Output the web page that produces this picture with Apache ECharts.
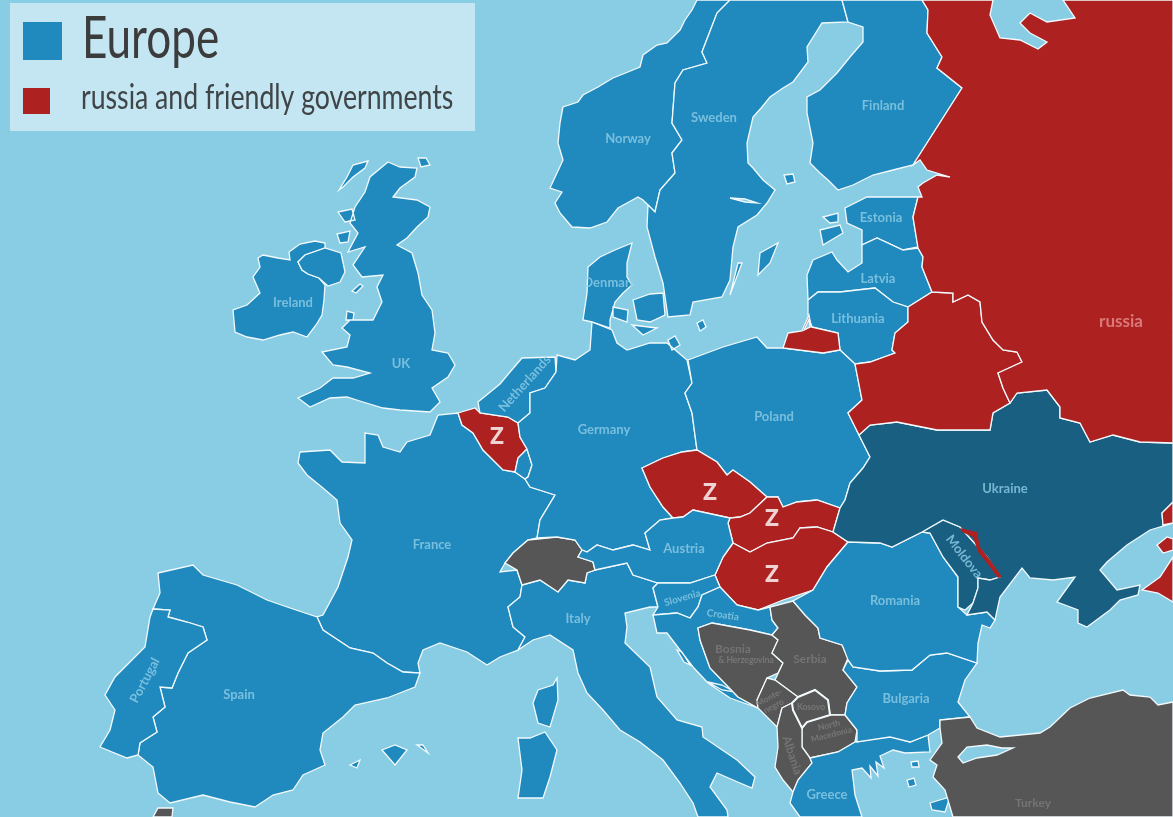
<!DOCTYPE html>
<html>
<head>
<meta charset="utf-8">
<style>html,body{margin:0;padding:0;background:#89cde5}#chart{width:1173px;height:817px}</style>
<script src="https://cdn.jsdelivr.net/npm/echarts@6/dist/echarts.min.js"></script>
</head>
<body>
<div id="chart"></div>
<script>
// outlines are in map units of the source picture
const ireland = [[263,255],[278,258],[290,260],[289,252],[300,244],[315,241],[325,243],[325,248],[305,255],[298,262],[302,270],[308,274],[319,278],[325,285],[324,300],[322,315],[316,325],[307,337],[293,332],[280,335],[263,340],[247,337],[235,332],[233,310],[247,305],[260,293],[253,277],[260,267],[258,258]];
const northernIreland = [[298,262],[305,255],[325,248],[341,253],[345,272],[340,282],[328,286],[319,278],[308,274],[302,270]];
const britain = [[388,162],[400,167],[417,168],[415,177],[400,188],[393,197],[417,200],[430,207],[428,217],[417,227],[407,238],[397,245],[412,253],[418,273],[422,295],[432,310],[435,333],[432,350],[448,353],[455,365],[448,377],[432,388],[440,402],[430,412],[400,410],[383,408],[363,402],[347,397],[330,398],[310,407],[298,398],[320,388],[333,378],[353,378],[370,373],[347,367],[333,365],[322,352],[347,347],[350,335],[342,328],[350,320],[373,320],[382,302],[377,287],[383,275],[362,277],[353,265],[365,247],[348,252],[358,233],[350,223],[355,207],[365,192],[370,177]];
const hebrides = [[368,161],[353,165],[347,177],[339,190],[343,187],[353,177],[365,168]];
const skye = [[338,212],[352,209],[355,220],[345,222]];
const mull = [[337,234],[350,231],[348,242],[340,243]];
const orkney = [[418,158],[426,158],[430,165],[421,167]];
const isleOfMan = [[352,291],[360,284],[363,286],[356,293]];
const anglesey = [[347,311],[354,313],[353,320],[346,320]];
const france = [[300,452],[330,450],[342,462],[365,463],[365,433],[378,435],[383,447],[400,452],[407,442],[430,435],[438,415],[458,413],[462,425],[473,433],[483,450],[488,455],[503,470],[515,472],[525,479],[530,487],[555,495],[540,520],[537,538],[528,540],[513,553],[505,563],[500,572],[517,570],[522,585],[520,597],[508,607],[513,627],[525,637],[518,650],[500,657],[487,665],[467,652],[440,643],[423,650],[418,663],[420,673],[403,672],[387,663],[373,653],[350,648],[323,630],[317,617],[323,615],[338,587],[348,557],[352,540],[340,523],[337,500],[323,488],[307,475],[298,463]];
const spain = [[158,573],[193,565],[203,575],[237,585],[267,600],[290,608],[317,617],[323,630],[350,648],[373,653],[387,663],[403,672],[420,673],[415,687],[387,698],[355,705],[343,717],[323,733],[320,750],[325,765],[303,775],[293,790],[273,795],[255,807],[230,802],[203,795],[170,803],[158,793],[153,767],[138,755],[140,743],[157,732],[153,717],[165,707],[160,687],[172,688],[178,673],[188,653],[207,640],[203,627],[187,622],[168,617],[170,610],[153,609],[160,593]];
const portugal = [[153,609],[170,610],[168,617],[187,622],[203,627],[207,640],[188,653],[178,673],[172,688],[160,687],[165,707],[153,717],[157,732],[140,743],[138,755],[127,758],[100,747],[110,730],[115,710],[105,695],[115,677],[145,647],[150,617]];
const mallorca = [[382,750],[395,745],[407,750],[395,765]];
const menorca = [[417,745],[423,745],[428,753]];
const ibiza = [[350,765],[360,760],[357,768]];
const morocco = [[153,817],[158,808],[173,808],[172,817]];
const corsica = [[557,678],[558,700],[550,727],[538,723],[533,703],[538,690],[553,685]];
const sardinia = [[545,732],[557,750],[550,777],[543,798],[518,798],[522,770],[518,738],[530,738]];
const italy = [[522,585],[540,580],[558,592],[568,580],[585,583],[587,573],[595,570],[627,563],[633,575],[658,583],[653,588],[658,607],[650,607],[625,613],[627,627],[625,643],[650,667],[657,697],[677,720],[702,727],[703,737],[737,760],[755,777],[752,788],[740,783],[717,773],[710,787],[727,810],[728,817],[698,817],[693,803],[680,783],[663,760],[640,742],[620,730],[603,710],[587,693],[578,673],[573,650],[550,635],[533,640],[518,650],[525,637],[513,627],[508,607],[520,597]];
const switzerland = [[505,563],[513,553],[528,540],[557,537],[575,540],[582,550],[578,557],[593,562],[595,570],[587,573],[585,583],[568,580],[558,592],[540,580],[522,585],[517,570]];
const belgium = [[458,413],[475,408],[480,413],[508,417],[518,423],[520,437],[527,449],[518,458],[515,472],[503,470],[488,455],[483,450],[473,433],[462,425]];
const netherlands = [[480,413],[478,402],[500,384],[510,372],[522,358],[555,357],[556,372],[545,388],[530,393],[530,413],[518,423],[508,417]];
const luxembourg = [[515,472],[518,458],[527,449],[532,465],[528,477],[525,479]];
const germany = [[557,355],[575,360],[590,350],[592,322],[612,330],[617,343],[627,350],[650,343],[667,343],[687,360],[692,383],[685,393],[692,413],[697,450],[682,452],[663,458],[642,468],[650,487],[663,507],[673,518],[660,520],[645,533],[650,550],[633,545],[613,550],[597,545],[587,552],[582,550],[575,540],[557,537],[537,538],[540,520],[555,495],[530,487],[525,479],[528,477],[532,465],[527,449],[520,437],[518,423],[530,413],[530,393],[545,388],[556,372]];
const jutland = [[632,243],[627,263],[627,277],[632,285],[623,293],[615,302],[610,320],[610,328],[592,322],[583,320],[587,293],[588,267],[600,257],[615,250]];
const zealand = [[633,300],[650,294],[663,293],[665,315],[650,322],[637,320]];
const funen = [[613,307],[628,310],[627,322],[613,317]];
const lolland = [[632,325],[657,328],[643,335]];
const bornholm = [[697,323],[703,320],[706,327],[700,331]];
const gotland = [[760,253],[778,243],[770,263],[758,275]];
const oland = [[738,263],[742,263],[730,295]];
const rugen = [[668,340],[675,336],[680,345],[672,350]];
const norway = [[697,0],[692,10],[685,20],[680,30],[667,43],[657,45],[643,55],[640,67],[628,72],[613,78],[598,87],[583,95],[578,102],[563,107],[560,123],[558,143],[563,160],[557,173],[550,188],[562,192],[555,203],[560,213],[572,227],[590,228],[607,222],[618,208],[638,197],[643,200],[648,205],[655,212],[660,190],[675,173],[672,153],[682,140],[672,123],[675,83],[683,70],[707,63],[702,52],[717,13],[730,0]];
const sweden = [[730,0],[717,13],[702,52],[707,63],[683,70],[675,83],[672,123],[682,140],[672,153],[675,173],[660,190],[655,212],[648,205],[647,227],[655,257],[663,283],[668,317],[690,315],[693,302],[722,297],[730,280],[733,247],[738,227],[757,215],[767,203],[775,190],[763,180],[753,168],[748,163],[747,143],[753,117],[762,107],[770,97],[783,88],[793,82],[808,62],[807,47],[822,23],[848,22],[842,0]];
const finland = [[842,0],[848,22],[863,27],[863,42],[850,57],[837,73],[820,90],[807,97],[807,113],[813,143],[810,163],[820,173],[828,180],[838,190],[853,185],[873,175],[893,170],[913,165],[962,88],[937,68],[942,57],[927,33],[928,10],[922,0]];
const aland = [[784,175],[793,174],[795,182],[787,184]];
const estonia = [[845,208],[867,197],[918,197],[913,217],[918,247],[903,250],[877,238],[862,245],[862,230],[847,223]];
const saaremaa = [[820,230],[840,225],[843,233],[823,245]];
const hiiumaa = [[823,217],[838,213],[838,222],[830,223]];
const latvia = [[813,260],[832,252],[837,260],[848,272],[862,263],[862,245],[877,238],[903,250],[918,248],[923,257],[922,267],[932,292],[908,307],[893,302],[875,288],[840,292],[818,292],[808,300],[807,275]];
const lithuania = [[808,300],[818,292],[840,292],[875,288],[893,302],[908,307],[908,322],[895,333],[892,350],[895,353],[870,362],[855,364],[840,350],[838,333],[812,327],[808,315]];
const kaliningrad = [[788,333],[802,331],[809,315],[811,327],[838,333],[840,350],[823,353],[783,348]];
const curonian = [[804,330],[809,319],[810,327]];
const poland = [[688,360],[723,347],[757,337],[767,348],[783,348],[823,353],[840,350],[855,364],[862,400],[848,413],[858,433],[870,457],[863,468],[850,483],[845,500],[840,508],[817,500],[797,502],[783,507],[778,497],[767,497],[750,482],[733,470],[727,475],[717,462],[697,450],[692,413],[685,393],[692,383]];
const czechia = [[642,468],[663,458],[682,452],[697,450],[717,462],[727,475],[733,470],[750,482],[767,497],[750,513],[740,517],[730,518],[693,510],[683,517],[673,518],[663,507],[650,487]];
const slovakia = [[767,497],[778,497],[783,507],[797,502],[817,500],[840,508],[833,532],[817,527],[800,528],[793,538],[767,543],[750,552],[733,543],[728,523],[730,518],[740,517],[750,513]];
const hungary = [[733,543],[750,552],[767,543],[793,538],[800,528],[817,527],[833,532],[848,542],[827,567],[813,590],[783,600],[758,610],[737,605],[720,587],[715,575],[723,557]];
const austria = [[673,518],[683,517],[693,510],[730,518],[728,523],[733,543],[723,557],[715,575],[690,583],[658,583],[633,575],[627,563],[595,570],[593,562],[578,557],[582,550],[587,552],[597,545],[613,550],[633,545],[650,550],[645,533],[660,520]];
const slovenia = [[658,583],[690,583],[715,575],[720,587],[702,595],[698,607],[690,618],[677,613],[653,615],[658,607],[653,588]];
const croatia = [[720,587],[737,605],[758,610],[770,607],[772,620],[778,628],[772,635],[750,630],[712,623],[698,628],[700,640],[710,668],[738,697],[758,708],[730,698],[708,683],[693,667],[680,650],[667,633],[657,633],[653,615],[677,613],[690,618],[698,607],[702,595]];
const hvar = [[708,682],[722,685],[735,692],[722,690]];
const krk = [[677,650],[682,652],[690,665],[684,662]];
const bosnia = [[698,628],[712,623],[750,630],[772,635],[778,640],[772,653],[783,663],[778,673],[767,678],[757,700],[758,708],[738,697],[710,668],[700,640]];
const serbia = [[770,607],[793,601],[805,615],[818,628],[820,638],[842,645],[848,658],[843,670],[857,687],[847,703],[845,715],[830,715],[828,700],[815,690],[798,697],[775,680],[783,663],[772,653],[778,640],[772,635],[778,628],[772,620]];
const montenegro = [[767,678],[775,680],[798,697],[792,703],[782,708],[777,727],[758,708],[757,700]];
const kosovo = [[798,697],[815,690],[828,700],[830,715],[807,722],[802,728],[793,710],[792,703]];
const macedonia = [[807,722],[830,715],[845,715],[857,730],[855,742],[838,752],[810,758],[802,747],[802,728]];
const albania = [[782,708],[792,703],[793,710],[802,728],[802,747],[810,758],[812,763],[798,780],[793,792],[783,780],[775,767],[778,747],[777,727]];
const greece = [[810,758],[838,752],[855,742],[890,736],[910,742],[928,735],[930,752],[905,753],[893,750],[880,756],[884,768],[876,762],[878,776],[870,766],[871,778],[862,768],[852,770],[855,795],[862,817],[800,817],[790,803],[793,792],[798,780],[812,763]];
const thasos = [[911,762],[918,761],[919,767],[912,767]];
const limnos = [[907,780],[914,778],[916,785],[909,787]];
const lesbos = [[930,803],[950,797],[945,812],[932,810]];
const bulgaria = [[848,660],[853,667],[880,671],[912,670],[930,655],[947,653],[977,663],[965,680],[958,702],[970,717],[940,720],[940,728],[928,735],[910,742],[890,737],[857,742],[857,730],[845,715],[847,703],[857,687],[843,670]];
const romania = [[848,542],[880,543],[892,547],[922,532],[930,533],[943,557],[958,577],[958,607],[967,615],[987,612],[995,620],[990,628],[982,625],[978,643],[977,663],[947,653],[930,655],[912,670],[880,671],[853,667],[848,660],[843,647],[842,645],[820,638],[818,628],[805,615],[793,601],[813,590],[827,567]];
const moldova = [[922,532],[943,520],[960,527],[978,547],[987,557],[1000,577],[990,580],[978,578],[978,588],[973,603],[965,610],[958,607],[958,577],[943,557],[930,533]];
const transnistria = [[960,528],[977,532],[980,547],[990,560],[1002,577],[998,578],[987,563],[978,552],[973,537],[962,532]];
const ukraine = [[859,435],[870,425],[897,422],[927,428],[937,430],[963,430],[990,430],[993,413],[1010,403],[1017,393],[1047,390],[1060,407],[1060,418],[1080,423],[1090,442],[1113,435],[1140,442],[1173,443],[1173,502],[1162,513],[1163,525],[1173,523],[1150,530],[1127,545],[1107,562],[1100,570],[1117,590],[1140,585],[1138,595],[1120,600],[1110,610],[1087,627],[1078,623],[1078,610],[1057,602],[1075,577],[1053,580],[1030,578],[1022,568],[1000,597],[995,620],[987,612],[967,615],[973,603],[978,588],[978,578],[990,580],[1000,577],[987,557],[978,547],[960,527],[943,520],[922,532],[892,547],[880,543],[848,542],[833,532],[840,508],[845,500],[850,483],[863,468],[870,457]];
const belarus = [[932,292],[953,293],[953,302],[968,295],[980,302],[982,322],[993,340],[1003,350],[1017,352],[1022,362],[998,373],[1003,388],[1010,403],[993,413],[990,430],[963,430],[937,430],[927,428],[897,422],[870,425],[859,435],[858,433],[848,413],[862,400],[855,364],[870,362],[895,353],[892,350],[895,333],[908,322],[908,307]];
const russiaMain = [[922,0],[993,0],[990,15],[1000,38],[1020,40],[1038,49],[1047,42],[1030,33],[1020,23],[1030,13],[1047,22],[1075,18],[1063,0],[1173,0],[1173,443],[1140,442],[1113,435],[1090,442],[1080,423],[1060,418],[1060,407],[1047,390],[1017,393],[1010,403],[1003,388],[998,373],[1022,362],[1017,352],[1003,350],[993,340],[982,322],[980,302],[968,295],[953,302],[953,293],[932,292],[922,267],[923,257],[918,248],[913,217],[918,197],[922,197],[918,187],[923,183],[937,175],[950,177],[927,170],[920,160],[913,165],[962,88],[937,68],[942,57],[927,33],[928,10]];
const russiaDonetsk = [[1173,502],[1162,513],[1163,525],[1173,523]];
const russiaKuban = [[1157,545],[1167,537],[1173,539],[1173,550],[1163,553]];
const russiaCoast = [[1142,590],[1160,577],[1173,557],[1173,602],[1158,593]];
const turkey = [[940,720],[970,717],[977,728],[1000,737],[1040,733],[1050,727],[1070,708],[1090,698],[1123,690],[1130,695],[1150,697],[1158,705],[1173,702],[1173,817],[953,817],[945,790],[933,777],[937,765],[930,760],[942,743],[940,728]];
const marmara = [[958,757],[967,747],[987,745],[1002,748],[1013,748],[997,755],[977,758],[963,763]];
const vanern = [[730,198],[745,199],[757,203],[745,202]];

const europeNames = ['Ireland','UK','France','Spain','Portugal','Italy','Netherlands','Luxembourg','Germany','Denmark','Norway','Sweden','Finland','Estonia','Latvia','Lithuania','Poland','Austria','Slovenia','Croatia','Greece','Bulgaria','Romania'];
const friendlyNames = ['russia','Belarus','Belgium','Czechia','Slovakia','Hungary','Transnistria'];
const neutralNames = ['Switzerland','Bosnia','Serbia','Montenegro','Kosovo','North Macedonia','Albania','Turkey','Morocco'];
const invadedNames = ['Ukraine','Moldova'];
const waterNames = ['Marmara','Vanern','Curonian'];

// text, x, y, rotation
const blueLabels = [['Norway',628,138,0],['Sweden',714,117,0],['Finland',883,105,0],['Estonia',881,217,0],['Latvia',878,278,0],['Lithuania',858,318,0],['Denmark',610,282,0],['Ireland',293,302,0],['UK',401,363,0],['Netherlands',524,383,48],['Germany',604,429,0],['Poland',774,416,0],['France',432,544,0],['Spain',239,694,0],['Portugal',144,680,62],['Austria',684,548,0],['Italy',578,618,0],['Romania',895,600,0],['Bulgaria',906,698,0],['Greece',827,794,0],['Ukraine',1005,488,0],['Moldova',965,556,-52]];
const smallBlueLabels = [['Slovenia',682,597,16],['Croatia',723,614,-8]];
const greyLabels = [['Bosnia',733,648,0],['Serbia',810,658,0],['Albania',793,755,-72],['Turkey',1033,802,0]];
const tinyGreyLabels = [['& Herzegovina',746,659,0],['Monte-\nnegro',771,701,28],['Kosovo',811,706,0],['North\nMacedonia',830,729,14]];
const russiaLabels = [['russia',1121,321,0]];
const zMarks = [['Z',497,436],['Z',710,492],['Z',772,518],['Z',772,574]];

const features = [
  ['Ireland',[ireland]],
  ['UK',[britain,northernIreland,hebrides,skye,mull,orkney,isleOfMan,anglesey]],
  ['France',[france,corsica]],
  ['Spain',[spain,mallorca,menorca,ibiza]],
  ['Portugal',[portugal]],
  ['Morocco',[morocco]],
  ['Italy',[italy,sardinia]],
  ['Switzerland',[switzerland]],
  ['Belgium',[belgium]],
  ['Netherlands',[netherlands]],
  ['Luxembourg',[luxembourg]],
  ['Germany',[germany,rugen]],
  ['Denmark',[jutland,zealand,funen,lolland,bornholm]],
  ['Norway',[norway]],
  ['Sweden',[sweden,gotland,oland]],
  ['Finland',[finland,aland]],
  ['Estonia',[estonia,saaremaa,hiiumaa]],
  ['Latvia',[latvia]],
  ['Lithuania',[lithuania]],
  ['Poland',[poland]],
  ['Czechia',[czechia]],
  ['Slovakia',[slovakia]],
  ['Hungary',[hungary]],
  ['Austria',[austria]],
  ['Slovenia',[slovenia]],
  ['Croatia',[croatia,hvar,krk]],
  ['Bosnia',[bosnia]],
  ['Serbia',[serbia]],
  ['Montenegro',[montenegro]],
  ['North Macedonia',[macedonia]],
  ['Albania',[albania]],
  ['Kosovo',[kosovo]],
  ['Greece',[greece,lesbos,thasos,limnos]],
  ['Bulgaria',[bulgaria]],
  ['Romania',[romania]],
  ['Moldova',[moldova]],
  ['Ukraine',[ukraine]],
  ['Belarus',[belarus]],
  ['russia',[russiaMain,kaliningrad,russiaDonetsk,russiaKuban,russiaCoast]],
  ['Transnistria',[transnistria]],
  ['Turkey',[turkey]],
  ['Marmara',[marmara]],
  ['Vanern',[vanern]],
  ['Curonian',[curonian]]
].map(([name, parts]) => ({
  type: 'Feature',
  properties: {name},
  geometry: {type: 'MultiPolygon', coordinates: parts.map(p => [p.concat([p[0]])])}
}));

echarts.registerMap('europe', {type: 'FeatureCollection', features});

const BLUE = '#2089bd', RED = '#ae2121', DARK = '#185f82', GREY = '#565656', SEA = '#89cde5';
const paint = (names, color) => names.map(name => ({name, itemStyle: {areaColor: color}}));

const labelSeries = (rows, color, fontSize, fontWeight, fontFamily) => ({
  type: 'scatter',
  coordinateSystem: 'geo',
  symbolSize: 0,
  silent: true,
  z: 5,
  data: rows.map(r => ({
    value: [r[1], r[2]],
    label: {
      show: true, position: 'inside', formatter: r[0], rotate: r[3] || 0, offset: [0, 1],
      color, fontSize, fontWeight, lineHeight: fontSize + 1,
      fontFamily: fontFamily || 'Lato', align: 'center', verticalAlign: 'middle'
    }
  }))
});

const chart = echarts.init(document.getElementById('chart'));
chart.setOption({
  animation: false,
  backgroundColor: SEA,
  geo: {
    map: 'europe',
    projection: {project: p => p, unproject: p => p},
    boundingCoords: [[0, 0], [1173, 817]],
    left: 0, top: 0, right: 0, bottom: 0,
    roam: false,
    silent: true,
    label: {show: false},
    itemStyle: {areaColor: BLUE, borderColor: '#f2fafd', borderWidth: 1.3},
    regions: [
      ...paint(europeNames, BLUE),
      ...paint(friendlyNames, RED),
      ...paint(neutralNames, GREY),
      ...paint(invadedNames, DARK),
      ...paint(waterNames, SEA),
      {name: 'Transnistria', itemStyle: {areaColor: RED, borderWidth: 0}},
      {name: 'Kosovo', itemStyle: {areaColor: GREY, borderWidth: 2}}
    ]
  },
  series: [
    labelSeries(blueLabels, '#8fcde6', 13, 'bold'),
    labelSeries(smallBlueLabels, '#8fcde6', 10, 'bold'),
    labelSeries(greyLabels, '#7c7c7c', 12, 'bold'),
    labelSeries(tinyGreyLabels, '#808080', 8.5, 'bold'),
    labelSeries(russiaLabels, '#e39090', 17, 'bold'),
    labelSeries(zMarks, '#ffffff', 24, 'bold', 'Open Sans')
  ],
  graphic: [
    {type: 'rect', shape: {x: 10, y: 3, width: 465, height: 128}, style: {fill: '#c3e6f2'}, z: 10},
    {type: 'rect', shape: {x: 23, y: 22, width: 39, height: 38}, style: {fill: BLUE}, z: 11},
    {type: 'rect', shape: {x: 23, y: 88, width: 27, height: 26}, style: {fill: RED}, z: 11},
    {type: 'text', x: 82, y: 10, scaleX: 0.76, z: 11, style: {text: 'Europe', font: '58px Lato', fill: '#3c3c3c'}},
    {type: 'text', x: 81, y: 81, scaleX: 0.784, z: 11, style: {text: 'russia and friendly governments', font: '34px Lato', fill: '#404548'}}
  ]
});
</script>
</body>
</html>
